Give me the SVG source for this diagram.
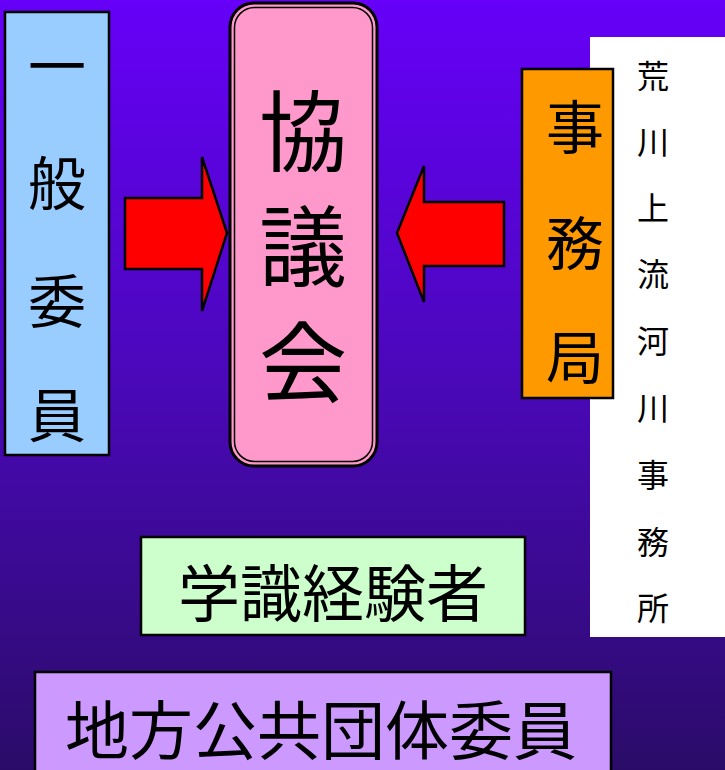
<svg xmlns="http://www.w3.org/2000/svg" width="725" height="770" viewBox="0 0 725 770">
<defs>
<linearGradient id="bg" x1="0" y1="0" x2="0" y2="1">
<stop offset="0" stop-color="#6600F8"/>
<stop offset="0.5" stop-color="#4A08B8"/>
<stop offset="1" stop-color="#2A0C68"/>
</linearGradient>
</defs>
<style>
.box{stroke:#000;stroke-width:2.5}
.arrow{fill:#FF0000;stroke:#000;stroke-width:2.5;stroke-linejoin:miter}
text{font-family:"Noto Sans CJK JP","Noto Sans",sans-serif;fill:#000;text-anchor:middle;dominant-baseline:central}
.big{font-size:58px}
.huge{font-size:88px}
.mid{font-size:62px}
.wide{font-size:64px}
.small{font-size:32px}
</style>
<rect x="0" y="0" width="725" height="770" fill="url(#bg)"/>

<g id="office">
<rect x="590" y="37" width="135" height="600" fill="#FFFFFF"/>
<text class="small" x="653" y="74">荒</text>
<text class="small" x="653" y="140">川</text>
<text class="small" x="653" y="206">上</text>
<text class="small" x="653" y="272">流</text>
<text class="small" x="653" y="339">河</text>
<text class="small" x="653" y="406">川</text>
<text class="small" x="653" y="473">事</text>
<text class="small" x="653" y="540">務</text>
<text class="small" x="653" y="606">所</text>
</g>

<g id="general-members">
<rect class="box" x="5" y="12" width="104" height="443" fill="#99CCFF"/>
<text class="big" x="57" y="63">一</text>
<text class="big" x="57" y="180">般</text>
<text class="big" x="57" y="298">委</text>
<text class="big" x="57" y="412">員</text>
</g>

<g id="council">
<rect x="230" y="3" width="147" height="463" rx="24" ry="24" fill="#FF99CC" stroke="#000" stroke-width="3"/>
<rect x="234.5" y="7.5" width="138" height="454" rx="20" ry="20" fill="none" stroke="#000" stroke-width="1.5"/>
<text class="huge" x="303" y="125">協</text>
<text class="huge" x="303" y="240">議</text>
<text class="huge" x="303" y="356">会</text>
</g>

<g id="secretariat">
<rect class="box" x="522" y="69" width="91" height="329" fill="#FF9900"/>
<text class="big" x="575" y="124">事</text>
<text class="big" x="575" y="240">務</text>
<text class="big" x="575" y="354">局</text>
</g>

<g id="experts">
<rect class="box" x="141" y="537" width="384" height="98" fill="#CCFFCC"/>
<text class="mid" x="333" y="590">学識経験者</text>
</g>

<g id="local-gov">
<rect class="box" x="35" y="672" width="576" height="110" fill="#CC99FF"/>
<text class="wide" x="321" y="726">地方公共団体委員</text>
</g>

<g id="connectors">
<polygon class="arrow" points="125,198 202,198 202,157 227,233 202,311 202,269 125,269"/>
<polygon class="arrow" points="504,202 424,202 424,166 397,233 424,302 424,266 504,266"/>
</g>
</svg>
